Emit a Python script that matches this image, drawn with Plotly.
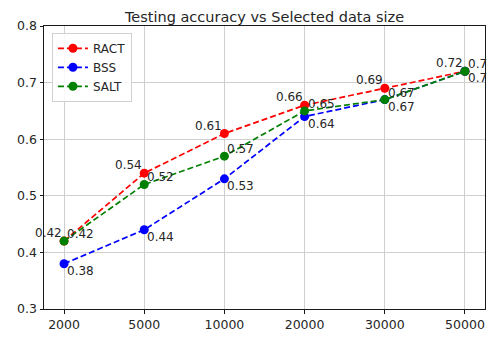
import plotly.graph_objects as go

sizes = ["2000", "5000", "10000", "20000", "30000", "50000"]
ract = [0.42, 0.54, 0.61, 0.66, 0.69, 0.72]
bss = [0.38, 0.44, 0.53, 0.64, 0.67, 0.72]
salt = [0.42, 0.52, 0.57, 0.65, 0.67, 0.72]
yticks = [0.3, 0.4, 0.5, 0.6, 0.7, 0.8]

# name, values, colour, label anchor (xanchor, yanchor, xshift, yshift)
series = [
    ("RACT", ract, "red", ("right", "bottom", 0, -1)),
    ("BSS", bss, "blue", ("left", "top", 1, 2)),
    ("SALT", salt, "green", ("left", "bottom", 1, -2)),
]

FONT = "DejaVu Sans"
TXT = "#262626"

fig = go.Figure()
annotations = []
for name, vals, color, (xa, ya, xs, ys) in series:
    fig.add_trace(go.Scatter(
        x=list(range(len(sizes))), y=vals, name=name,
        mode="lines+markers",
        line=dict(color=color, dash="6px,3px", width=1.7),
        marker=dict(color=color, size=9),
    ))
    for i, v in enumerate(vals):
        annotations.append(dict(
            x=i, y=v, xref="x", yref="y", text=f"{v:.2f}", showarrow=False,
            xanchor=xa, yanchor=ya, xshift=xs, yshift=ys,
            font=dict(size=12, color=TXT, family=FONT),
        ))

# The page body has an 8px margin, so the figure is sized to fit the window.
fig.update_layout(
    width=487, height=333,
    margin=dict(l=36, r=9, t=18, b=25),
    paper_bgcolor="white", plot_bgcolor="white",
    font=dict(family=FONT, size=12.5, color=TXT),
    title=dict(text="Testing accuracy vs Selected data size",
               x=256.5 / 487, xanchor="center", xref="container",
               y=1 - 9 / 333, yanchor="middle", yref="container",
               font=dict(size=14.5, color=TXT)),
    showlegend=True,
    legend=dict(x=0.018, y=0.976, xanchor="left", yanchor="top",
                bordercolor="#d0d0d0", borderwidth=1, bgcolor="rgba(255,255,255,0.85)",
                font=dict(size=12, color=TXT), itemwidth=30),
    annotations=annotations,
)
fig.update_xaxes(
    tickmode="array", tickvals=list(range(len(sizes))), ticktext=sizes,
    range=[-0.25, 5.25], showgrid=True, gridcolor="#cfcfcf", gridwidth=1,
    showline=True, linecolor="#1a1a1a", linewidth=1, mirror=True,
    ticks="outside", ticklen=3.5, tickcolor="#1a1a1a", zeroline=False,
)
fig.update_yaxes(
    tickmode="array", tickvals=yticks, ticktext=[str(v) for v in yticks],
    range=[0.3, 0.8], showgrid=True, gridcolor="#cfcfcf", gridwidth=1,
    showline=True, linecolor="#1a1a1a", linewidth=1, mirror=True,
    ticks="outside", ticklen=3.5, tickcolor="#1a1a1a", zeroline=False,
)
fig.write_html("out.html")
